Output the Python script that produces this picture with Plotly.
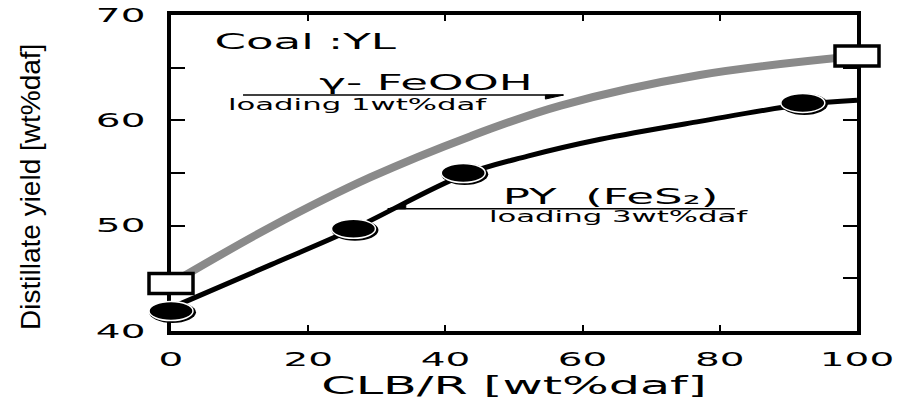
import plotly.graph_objects as go

# ---- data ----
clb_feooh = [0, 100]                       # CLB/R [wt%daf], gamma-FeOOH points
yield_feooh = [44.5, 66.1]
clb_py = [0, 26.6, 42.6, 92.1]             # CLB/R [wt%daf], PY (FeS2) points
yield_py = [41.9, 49.7, 55.0, 61.65]

# fitted curves
feooh_curve_x = [0, 14.6, 29.1, 43.7, 56.8, 77.1, 100]
feooh_curve_y = [44.5, 49.9, 54.6, 58.5, 61.4, 64.3, 66.1]
py_curve_x = [0, 14.6, 26.6, 42.6, 52.0, 62.6, 77.1, 92.1, 100]
py_curve_y = [42.2, 46.3, 49.7, 54.8, 56.6, 58.2, 59.9, 61.5, 61.9]

x_ticks = [0, 20, 40, 60, 80, 100]
x_tick_text = ["0", "20", "40", "60", "80", "100"]
y_ticks = [40, 50, 60, 70]
y_tick_text = ["40", "50", "60", "70"]

FONT = "DejaVu Sans"

fig = go.Figure()
fig.add_trace(go.Scatter(x=feooh_curve_x, y=feooh_curve_y, mode="lines",
                         line=dict(color="#8a8a8a", width=8, shape="spline", smoothing=1.0),
                         name="γ-FeOOH fit", showlegend=False))
fig.add_trace(go.Scatter(x=py_curve_x, y=py_curve_y, mode="lines",
                         line=dict(color="black", width=5, shape="spline", smoothing=1.0),
                         name="PY fit", showlegend=False))
fig.add_trace(go.Scatter(x=clb_feooh, y=yield_feooh, mode="markers",
                         marker=dict(symbol="square", size=16, color="white",
                                     line=dict(color="black", width=2)),
                         name="γ-FeOOH", showlegend=False, cliponaxis=False))
fig.add_trace(go.Scatter(x=clb_py, y=yield_py, mode="markers",
                         marker=dict(symbol="circle", size=16, color="black"),
                         name="PY (FeS2)", showlegend=False, cliponaxis=False))

shapes = []
for xv, yv in zip(clb_feooh, yield_feooh):
    shapes.append(dict(type="rect", xref="x", yref="y", xsizemode="pixel", ysizemode="pixel",
                       xanchor=xv, yanchor=yv, x0=-22, x1=22, y0=-10, y1=10,
                       fillcolor="white", line=dict(color="black", width=3.5), layer="above"))
for xv, yv in zip(clb_py, yield_py):
    shapes.append(dict(type="circle", xref="x", yref="y", xsizemode="pixel", ysizemode="pixel",
                       xanchor=xv, yanchor=yv, x0=-22, x1=25, y0=-12, y1=9.5,
                       fillcolor="black", line=dict(width=0), layer="above"))
    shapes.append(dict(type="circle", xref="x", yref="y", xsizemode="pixel", ysizemode="pixel",
                       xanchor=xv, yanchor=yv, x0=-22, x1=22, y0=-9.5, y1=9.5,
                       fillcolor="black", line=dict(color="white", width=1.5), layer="above"))

# pointer lines with small arrow heads (label decoration)
shapes += [
    dict(type="line", xref="x", yref="y", x0=10.5, x1=57.2, y0=62.4, y1=62.4,
         line=dict(color="black", width=1.5)),
    dict(type="path", xref="x", yref="y", xsizemode="pixel", ysizemode="pixel",
         xanchor=57.2, yanchor=62.4, path="M 0 0 L -18 -4 L -18 0 Z",
         fillcolor="black", line=dict(color="black", width=1)),
    dict(type="line", xref="x", yref="y", x0=31.6, x1=82.2, y0=51.6, y1=51.6,
         line=dict(color="black", width=1.5)),
    dict(type="path", xref="x", yref="y", xsizemode="pixel", ysizemode="pixel",
         xanchor=31.6, yanchor=51.6, path="M 0 0 L 18 4 L 18 0 Z",
         fillcolor="black", line=dict(color="black", width=1)),
]

annotations = [
    dict(text="Coal :YL", x=19.6, y=67.45, xref="x", yref="y", showarrow=False,
         font=dict(family=FONT, size=22, color="black")),
    dict(text="γ- FeOOH", x=37.2, y=63.55, xref="x", yref="y", showarrow=False,
         font=dict(family=FONT, size=22, color="black")),
    dict(text="loading 1wt%daf", x=27.2, y=61.5, xref="x", yref="y", showarrow=False,
         font=dict(family=FONT, size=15, color="black")),
    dict(text="PY\u00a0 (FeS₂)", x=64.0, y=52.75, xref="x", yref="y", showarrow=False,
         font=dict(family=FONT, size=22, color="black")),
    dict(text="loading 3wt%daf", x=65.3, y=50.8, xref="x", yref="y", showarrow=False,
         font=dict(family=FONT, size=15, color="black")),
    # y-axis title
    dict(text="Distillate yield [wt%daf]", x=-0.204, y=0.456, xref="paper", yref="paper",
         xanchor="center", yanchor="middle", textangle=-90, showarrow=False,
         font=dict(family="Liberation Sans", size=28, color="black")),
]

fig.update_layout(
    width=906, height=406, autosize=False,
    margin=dict(l=171, r=49, t=15, b=75),
    paper_bgcolor="white", plot_bgcolor="white",
    showlegend=False,
    shapes=shapes, annotations=annotations,
    xaxis=dict(range=[0, 100], tickvals=x_ticks, ticktext=x_tick_text,
               ticks="inside", ticklen=6, tickwidth=2, tickcolor="black",
               showline=True, linewidth=3.5, linecolor="black", mirror="ticks",
               showgrid=False, zeroline=False, ticklabelstandoff=8, automargin=False,
               tickfont=dict(family=FONT, size=19, color="black"),
               title=dict(text="CLB/R [wt%daf]", standoff=10,
                          font=dict(family=FONT, size=24, color="black"))),
    yaxis=dict(range=[40, 70], tickvals=y_ticks, ticktext=y_tick_text,
               ticks="inside", ticklen=14, tickwidth=2, tickcolor="black",
               minor=dict(dtick=5, ticks="inside", ticklen=14, tickwidth=2, tickcolor="black"),
               showline=True, linewidth=3.5, linecolor="black", mirror="ticks",
               showgrid=False, zeroline=False, ticklabelstandoff=18, automargin=False,
               tickfont=dict(family=FONT, size=19, color="black")),
)

post = """
document.body.style.margin = '0';
var gd = document.getElementById('{plot_id}');
var K = 2.05;
gd.querySelectorAll('.xtick text, .ytick text, .xtitle, .annotation-text').forEach(function(t){
  if (t.textContent.indexOf('Distillate') === 0) return;
  var L = t.getComputedTextLength();
  if (!(L > 0)) return;
  t.setAttribute('lengthAdjust', 'spacingAndGlyphs');
  t.setAttribute('textLength', L * K);
});
gd.querySelectorAll('.shapelayer [clip-path]').forEach(function(p){ p.removeAttribute('clip-path'); });
"""

fig.write_html("out.html", post_script=post, config={"displayModeBar": False})
